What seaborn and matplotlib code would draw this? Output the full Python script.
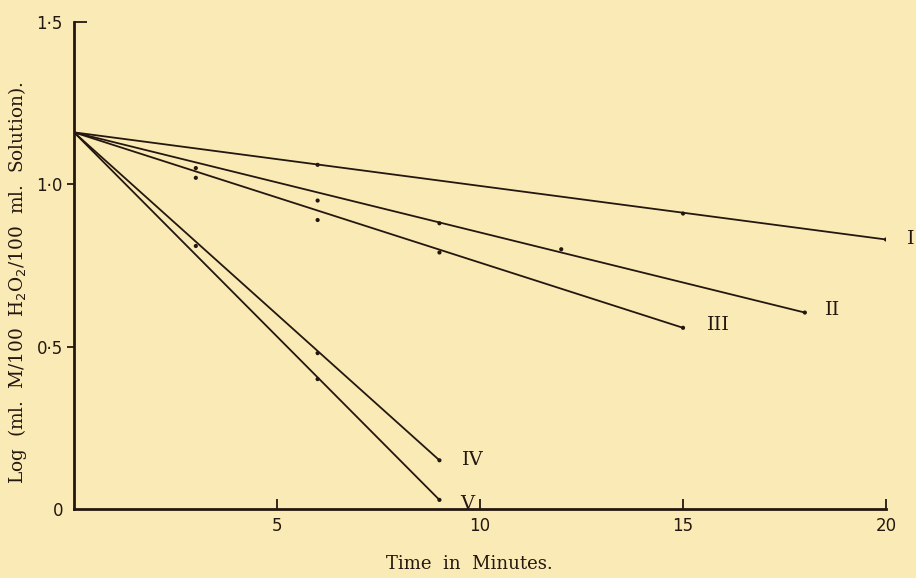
import pandas as pd
import numpy as np
import matplotlib
matplotlib.use('Agg')
import matplotlib.pyplot as plt
import matplotlib.lines as mlines
import seaborn as sns

# readings taken off the plate (log of titre vs. time)
start_value = 1.16
series_names = ['I', 'II', 'III', 'IV', 'V']
times_I = [6, 15, 20]
logs_I = [1.06, 0.91, 0.83]
times_II = [3, 6, 9, 12, 18]
logs_II = [1.05, 0.95, 0.88, 0.80, 0.605]
times_III = [3, 6, 9, 15]
logs_III = [1.02, 0.89, 0.79, 0.558]
times_IV = [3, 6, 9]
logs_IV = [0.81, 0.48, 0.15]
times_V = [6, 9]
logs_V = [0.40, 0.028]
x_ticks = [5, 10, 15, 20]
x_tick_labels = ['5', '10', '15', '20']
y_ticks = [0, 0.5, 1.0, 1.5]
y_tick_labels = ['0', '0·5', '1·0', '1·5']

BG = '#FAEBB6'
INK = '#24170f'


def build_frames():
    '''
    Returns one long frame with the observed points and one with the
    straight lines drawn from the common start to the last reading.
    '''
    times = [times_I, times_II, times_III, times_IV, times_V]
    logs = [logs_I, logs_II, logs_III, logs_IV, logs_V]
    obs_rows = []
    line_rows = []
    for name, t, v in zip(series_names, times, logs):
        for ti, vi in zip(t, v):
            obs_rows.append({'series': name, 'time': ti, 'log': vi})
        line_rows.append({'series': name, 'time': 0, 'log': start_value})
        line_rows.append({'series': name, 'time': t[-1], 'log': v[-1]})
    return pd.DataFrame(obs_rows), pd.DataFrame(line_rows)


def main():
    sns.set_theme(style='ticks')
    plt.rcParams['font.family'] = ['DejaVu Serif', 'Liberation Serif']
    obs, lines = build_frames()

    fig = plt.figure(figsize=(9.16, 5.78), dpi=100, facecolor=BG)
    ax = fig.add_axes([0.0808, 0.1194, 0.8865, 0.8426])
    ax.set_facecolor(BG)

    sns.lineplot(data=lines, x='time', y='log', units='series',
                 estimator=None, color=INK, linewidth=1.3, ax=ax)
    sns.scatterplot(data=obs, x='time', y='log', color=INK, s=9,
                    edgecolor='none', ax=ax, zorder=3)

    # roman numeral beside the end of each line
    offsets = {'I': (25, 1), 'II': (28, 3), 'III': (35, 3),
               'IV': (33, 0), 'V': (28, -4)}
    ends = lines.groupby('series').last()
    for name in series_names:
        ax.annotate(name, (ends.loc[name, 'time'], ends.loc[name, 'log']),
                    xytext=offsets[name], textcoords='offset pixels',
                    ha='center', va='center', fontsize=14, color=INK,
                    annotation_clip=False)

    ax.set_xlim(0, 20)
    ax.set_ylim(0, 1.5)
    ax.set_xticks(x_ticks)
    ax.set_xticklabels(x_tick_labels, family='DejaVu Sans', fontsize=12,
                       color=INK)
    ax.set_yticks(y_ticks)
    ax.set_yticklabels(y_tick_labels, family='DejaVu Sans', fontsize=12,
                       color=INK)
    ax.tick_params(axis='x', direction='in', length=7, width=1.3,
                   color=INK, pad=6)
    ax.tick_params(axis='y', direction='out', length=5, width=1.3,
                   color=INK, pad=3)
    ax.yaxis.get_major_ticks()[-1].tick1line.set_marker(mlines.TICKRIGHT)
    ax.yaxis.get_major_ticks()[-1].tick1line.set_markersize(9)
    ax.yaxis.get_major_ticks()[0].tick1line.set_visible(False)

    sns.despine(ax=ax)
    for side in ['left', 'bottom']:
        ax.spines[side].set_linewidth(2)
        ax.spines[side].set_color(INK)

    ax.set_xlabel('')
    ax.set_ylabel('')
    fig.text(0.512, 0.008, 'Time  in  Minutes.', ha='center', va='bottom',
             fontsize=13, color=INK)
    fig.text(0.019, 0.51,
             'Log  (ml.  M/100  H$_2$O$_2$/100  ml.  Solution).',
             rotation=90, ha='center', va='center', fontsize=13.3,
             color=INK)

    plt.savefig('out.png', dpi=100, facecolor=BG)


if __name__ == '__main__':
    main()
